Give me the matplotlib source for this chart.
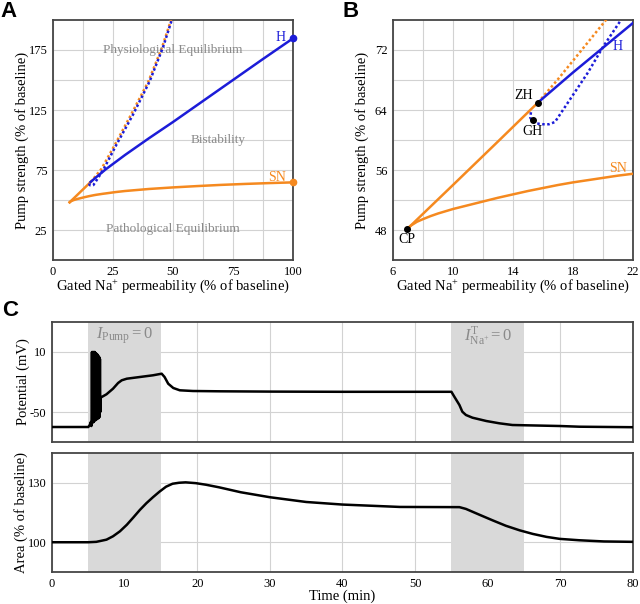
"""Bifurcation diagrams (A, B) and simulated time course (C)."""

import matplotlib

matplotlib.use("Agg")
import matplotlib.pyplot as plt

plt.rcParams["font.family"] = ["Liberation Serif", "DejaVu Serif"]
plt.rcParams["mathtext.fontset"] = "custom"
plt.rcParams["mathtext.rm"] = "Liberation Serif"
plt.rcParams["mathtext.it"] = "Liberation Serif:italic"
plt.rcParams["axes.unicode_minus"] = False

BLUE = "#1c1cd8"
ORANGE = "#f5891f"
GREY_TXT = "#8a8a8a"
GRID = "#d2d2d2"
SPINE = "#454545"

# --- bifurcation curves (x: gated Na+ permeability %, y: pump strength %) ---
sn_low_x = [6.93, 7.2, 7.6, 8.0, 8.5, 9.0, 9.5, 10, 11, 12, 13, 14, 15, 16, 17, 18,
            19, 20, 21, 22, 26, 30, 40, 50, 60, 70, 80, 90, 100]
sn_low_y = [48.1, 48.6, 49.1, 49.45, 49.85, 50.2, 50.5, 50.8, 51.3, 51.8, 52.3, 52.75,
            53.2, 53.6, 54.0, 54.35, 54.65, 54.95, 55.25, 55.5, 56.6, 57.5, 59.2, 60.5,
            61.6, 62.6, 63.4, 64.1, 64.7]

sn_up_x = [6.93, 10, 13, 15.67]
sn_up_y = [48.1, 54.0, 59.8, 65.0]

sn_dot_x = [15.67, 17, 18.5, 20.2, 25.5, 32.5, 39.8, 45.4, 49.2]
sn_dot_y = [65.0, 68.1, 71.8, 76.0, 95, 121, 149, 177, 200]

h_x = [15.67, 18, 20, 22, 30, 40, 50, 62.5, 75, 87.5, 100]
h_y = [65.0, 69.0, 72.3, 75.6, 87.5, 101.5, 115, 132.5, 150, 167.5, 184.7]

hom_x = [15.2, 15.15, 15.3, 15.6, 16.0, 16.4, 16.8, 18, 19, 20, 21.2, 26.4, 33.3, 40.3, 45.8, 49.5]
hom_y = [63.7, 63.0, 62.5, 62.2, 62.1, 62.1, 62.4, 66.0, 69.0, 72.4, 76.0, 96, 121, 149, 177, 200]

cp_pt = (6.93, 48.1)
zh_pt = (15.67, 65.0)
gh_pt = (15.33, 62.7)

# --- time course: membrane potential (mV) ---
pot_t = [0, 5.0, 5.2, 5.35, 5.42,
         5.45, 5.50, 5.55, 5.60, 5.65, 5.70, 5.75, 5.80, 5.85, 5.90, 5.95,
         6.00, 6.05, 6.10, 6.15, 6.20, 6.25, 6.30, 6.35, 6.40, 6.45, 6.50,
         6.55, 6.60, 6.65,
         6.7, 7.5, 8.4, 9.1, 9.6, 10.3, 12.1, 13.9, 15.1, 15.5, 16.0, 16.7, 17.6,
         19.4, 23.1, 30, 40, 48, 55.0, 55.4, 56.1, 56.5, 57.0, 57.9, 59.8, 61.6,
         63.4, 65.3, 69.9, 72.6, 80]
pot_v = [-65, -65, -63, -60, -64,
         -62, 10, -61, 10, -60, 10, -60, 10, -59, 10, -58,
         9, -58, 8, -57, 8, -57, 7, -56, 6, -56, 5,
         -55, 3, -50,
         -35.6, -32.3, -26.7, -21, -18.3, -16.7, -15, -13.3, -11.7, -15, -21.7, -26, -28.3,
         -29, -29.3, -29.6, -29.8, -29.8, -29.8, -34.7, -43, -49.7, -53, -55.7, -59, -61.3,
         -63, -63.3, -64, -64.7, -65.2]

# --- time course: cell area (% of baseline) ---
area_t = [0, 5, 6.1, 7.5, 8.4, 9.35, 10.3, 11.2, 12.1, 13.0, 13.9, 14.8, 15.7, 16.6,
          17.5, 18.4, 19.8, 21.2, 23.0, 26, 30, 35, 40, 47.9, 56.1, 57.0, 58.9, 60.7,
          62.5, 64.4, 66.2, 68.1, 69.9, 72.6, 76, 80]
area_v = [100, 100, 100.2, 101.3, 103, 105.5, 108.8, 112.5, 116.3, 119.7, 122.7, 125.5,
          128, 129.5, 130, 130.2, 129.8, 129, 127.7, 125.2, 122.7, 120.3, 119, 117.8,
          117.7, 116.8, 113.8, 111, 108.3, 106, 104.2, 102.7, 101.7, 101, 100.4, 100.2]

shade_windows = [(5, 15), (55, 65)]
shade_labels = [r"$I_{\mathrm{Pump}} = 0$", r"$I^{\mathrm{T}}_{\mathrm{Na^{+}}} = 0$"]


def style_axes(ax):
    for sp in ax.spines.values():
        sp.set_color(SPINE)
        sp.set_linewidth(1.3)
    ax.tick_params(which="both", length=0, labelsize=9, pad=4)
    ax.grid(True, which="both", color=GRID, linewidth=0.8)
    ax.set_axisbelow(True)


def draw_curves(ax):
    ax.plot(sn_low_x, sn_low_y, color=ORANGE, lw=1.8, zorder=3)
    ax.plot(sn_up_x, sn_up_y, color=ORANGE, lw=1.8, zorder=3)
    ax.plot(sn_dot_x, sn_dot_y, color=ORANGE, lw=1.8, ls=(0, (1, 1)), zorder=3)
    ax.plot(hom_x, hom_y, color=BLUE, lw=1.8, ls=(0, (1, 1)), zorder=4)
    ax.plot(h_x, h_y, color=BLUE, lw=1.8, zorder=4)


fig = plt.figure(figsize=(6.4, 6.04), dpi=100)

# ---- A ----
axA = fig.add_axes([0.0828, 0.5695, 0.375, 0.3974])
style_axes(axA)
draw_curves(axA)
axA.plot([h_x[-1]], [h_y[-1]], "o", color=BLUE, ms=4.5, clip_on=False, zorder=5)
axA.plot([sn_low_x[-1]], [sn_low_y[-1]], "o", color=ORANGE, ms=4.5, clip_on=False, zorder=5)
axA.set_xlim(0, 100)
axA.set_ylim(0, 200)
axA.set_xticks([0, 25, 50, 75, 100])
axA.set_xticks([12.5, 37.5, 62.5, 87.5], minor=True)
axA.set_yticks([25, 75, 125, 175])
axA.set_yticks([50, 100, 150], minor=True)
axA.set_xlabel(r"Gated Na$^{+}$ permeability (% of baseline)", fontsize=10.5, labelpad=0)
axA.set_ylabel("Pump strength (% of baseline)", fontsize=10.5, labelpad=0)
axA.text(50, 175, "Physiological Equilibrium", color=GREY_TXT, fontsize=9.5,
         ha="center", va="center")
axA.text(69, 100, "Bistability", color=GREY_TXT, fontsize=9.5, ha="center", va="center")
axA.text(50, 26, "Pathological Equilibrium", color=GREY_TXT, fontsize=9.5,
         ha="center", va="center")
axA.text(97, 185, "H", color=BLUE, fontsize=10, ha="right", va="center")
axA.text(97, 69, "SN", color=ORANGE, fontsize=10, ha="right", va="center")

# ---- B ----
axB = fig.add_axes([0.614, 0.5695, 0.375, 0.3974])
style_axes(axB)
draw_curves(axB)
for pt in (cp_pt, zh_pt, gh_pt):
    axB.plot([pt[0]], [pt[1]], "o", color="black", ms=4, zorder=6)
axB.set_xlim(6, 22)
axB.set_ylim(44, 76)
axB.set_xticks([6, 10, 14, 18, 22])
axB.set_xticks([8, 12, 16, 20], minor=True)
axB.set_yticks([48, 56, 64, 72])
axB.set_yticks([52, 60, 68], minor=True)
axB.set_xlabel(r"Gated Na$^{+}$ permeability (% of baseline)", fontsize=10.5, labelpad=0)
axB.set_ylabel("Pump strength (% of baseline)", fontsize=10.5, labelpad=4)
axB.text(15.35, 65.9, "ZH", fontsize=10, ha="right", va="center")
axB.text(15.3, 61.2, "GH", fontsize=10, ha="center", va="center")
axB.text(6.93, 46.7, "CP", fontsize=10, ha="center", va="center")
axB.text(21.0, 72.4, "H", color=BLUE, fontsize=10, ha="center", va="center")
axB.text(21.0, 56.2, "SN", color=ORANGE, fontsize=10, ha="center", va="center")

# ---- C ----
axC1 = fig.add_axes([0.08125, 0.2682, 0.9078, 0.1987])
axC2 = fig.add_axes([0.08125, 0.0530, 0.9078, 0.1970])
for ax in (axC1, axC2):
    style_axes(ax)
    for lo, hi in shade_windows:
        ax.axvspan(lo, hi, color="#d9d9d9", lw=0, zorder=1)
    ax.set_xlim(0, 80)
    ax.set_xticks(range(0, 81, 10))

axC1.plot(pot_t, pot_v, color="black", lw=1.8, zorder=3)
axC1.set_ylim(-80, 40)
axC1.set_yticks([-50, 10])
axC1.set_xticklabels([])
axC1.set_ylabel("Potential (mV)", fontsize=10.5, labelpad=0)
for (lo, hi), lab in zip(shade_windows, shade_labels):
    axC1.text((lo + hi) / 2, 26, lab, color=GREY_TXT, fontsize=12, ha="center", va="center")

axC2.plot(area_t, area_v, color="black", lw=1.8, zorder=3)
axC2.set_ylim(85, 145)
axC2.set_yticks([100, 130])
axC2.set_xlabel("Time (min)", fontsize=10.5, labelpad=0)
axC2.set_ylabel("Area (% of baseline)", fontsize=10.5, labelpad=0)

for lab, x, y in (("A", 0.0, 0.999), ("B", 0.535, 0.999), ("C", 0.003, 0.503)):
    fig.text(x, y, lab, fontsize=16, fontweight="bold", family="Liberation Sans",
             ha="left", va="top")

fig.savefig("out.png", dpi=100)
